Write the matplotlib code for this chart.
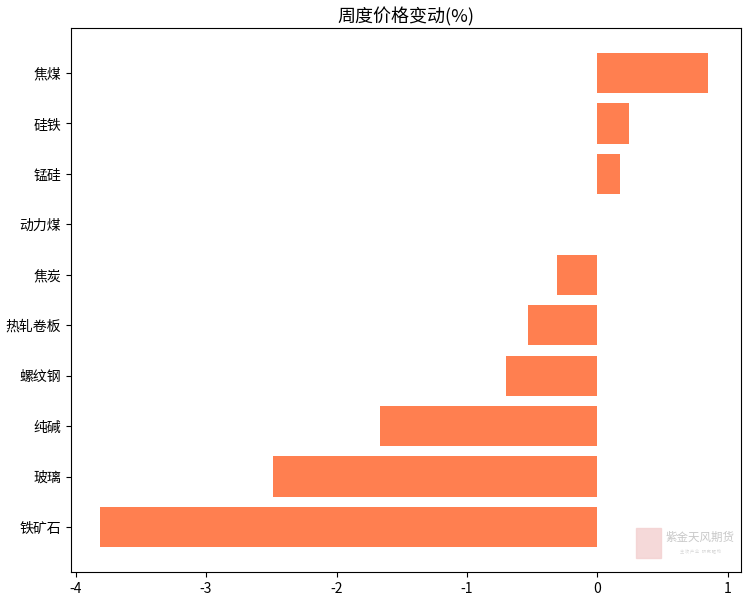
import matplotlib
matplotlib.use("Agg")
import matplotlib.pyplot as plt

plt.rcParams["font.family"] = ["Noto Sans CJK SC", "DejaVu Sans"]
plt.rcParams["axes.unicode_minus"] = False

# Bottom to top, as drawn by barh.
categories = ["铁矿石", "玻璃", "纯碱", "螺纹钢", "热轧卷板",
              "焦炭", "动力煤", "锰硅", "硅铁", "焦煤"]
changes = [-3.81, -2.49, -1.67, -0.70, -0.53, -0.31, 0.0, 0.17, 0.24, 0.85]
xticks = [-4, -3, -2, -1, 0, 1]

fig = plt.figure(figsize=(7.47, 5.98), dpi=100)
ax = fig.add_axes([71 / 747, 26 / 598, 670 / 747, 544 / 598])

ax.barh(categories, changes, color="coral", height=0.8)
ax.set_xlim(-4.035, 1.1)
ax.set_xticks(xticks)
ax.set_xticklabels([str(t) for t in xticks])
ax.tick_params(labelsize=10)
ax.set_title("周度价格变动(%)", fontsize=13, pad=4)

# Watermark in the lower right corner.
fig.text(700 / 747, 1 - 537 / 598, "紫金天风期货", fontsize=8.3,
         color="#c8c8c8", ha="center", va="center")
fig.text(700 / 747, 1 - 551 / 598, "主 攻 产 业   研 究 驱 动", fontsize=3,
         color="#d8d8d8", ha="center", va="center")
fig.patches.append(plt.Rectangle((636 / 747, 40 / 598), 25 / 747, 30 / 598,
                                 transform=fig.transFigure,
                                 color="#f3d0d0", alpha=0.8))

fig.savefig("out.png", dpi=100)
